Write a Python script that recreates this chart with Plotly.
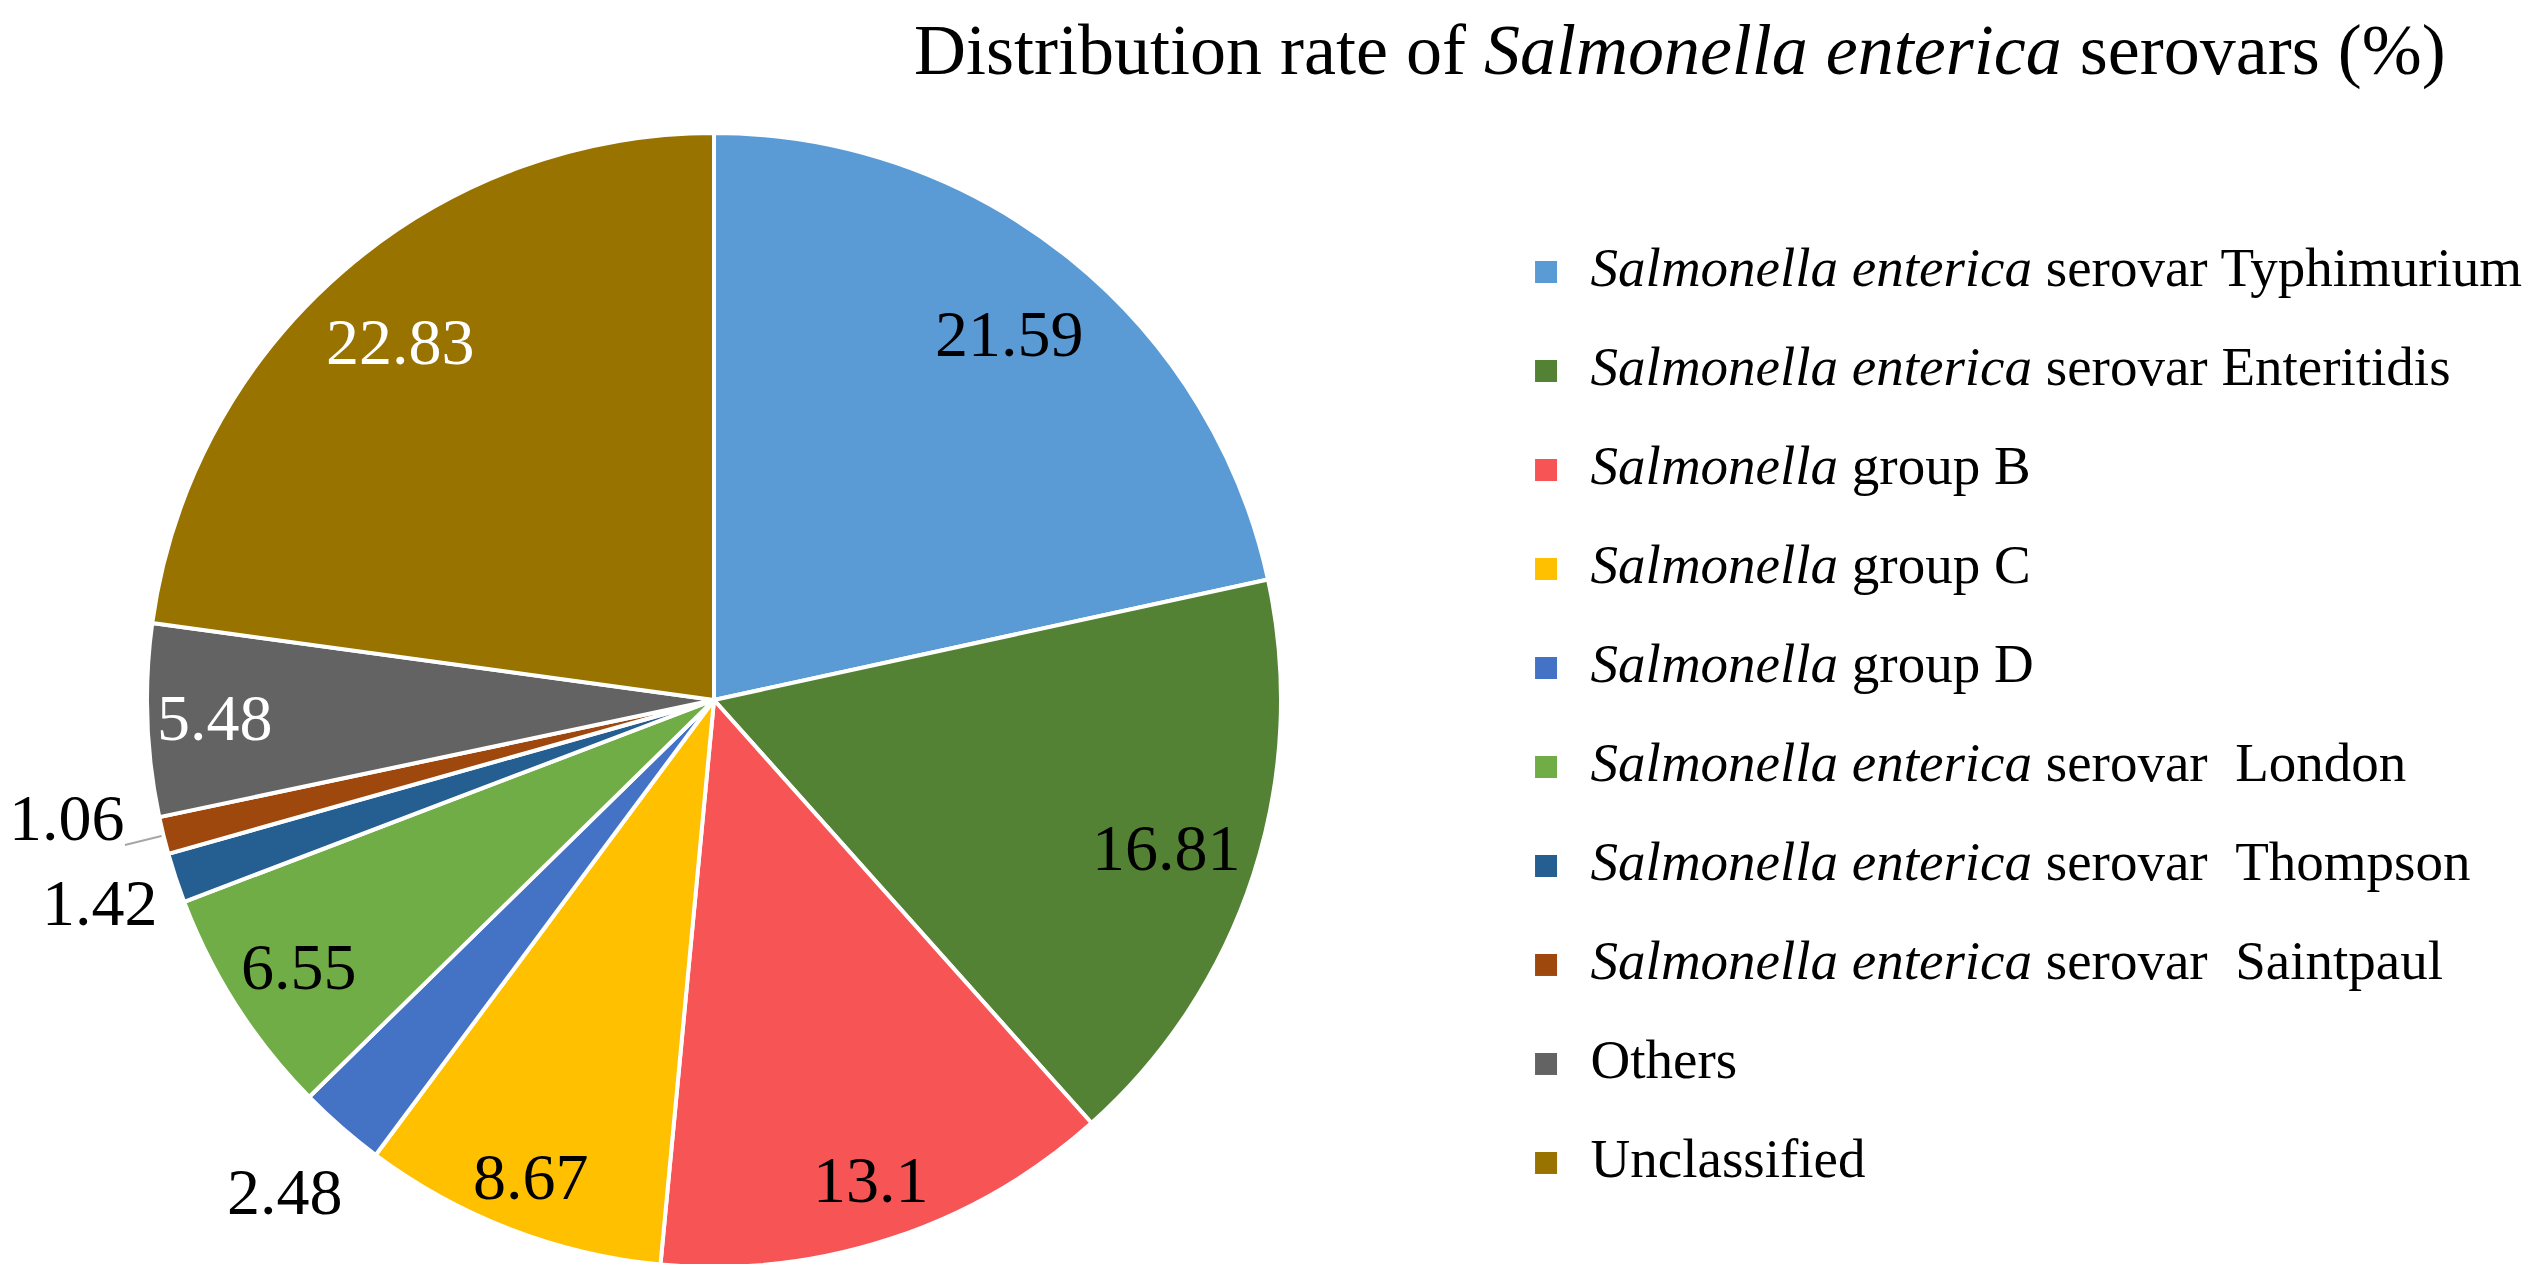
import math
import plotly.graph_objects as go

# serovar categories (legend order = slice order, clockwise from 12 o'clock)
categories = [
    "<i>Salmonella enterica</i> serovar Typhimurium",
    "<i>Salmonella enterica</i> serovar Enteritidis",
    "<i>Salmonella</i> group B",
    "<i>Salmonella</i> group C",
    "<i>Salmonella</i> group D",
    "<i>Salmonella enterica</i> serovar \u00a0London",
    "<i>Salmonella enterica</i> serovar \u00a0Thompson",
    "<i>Salmonella enterica</i> serovar \u00a0Saintpaul",
    "Others",
    "Unclassified",
]
rates = [21.59, 16.81, 13.1, 8.67, 2.48, 6.55, 1.42, 1.06, 5.48, 22.83]
rate_labels = ["21.59", "16.81", "13.1", "8.67", "2.48", "6.55", "1.42", "1.06", "5.48", "22.83"]

colors = ["#5B9BD5", "#548235", "#F75455", "#FFC000", "#4472C4",
          "#70AD47", "#255E91", "#9E480E", "#636363", "#997300"]
label_colors = ["black"] * 8 + ["white", "white"]
# label distance from centre (fraction of radius) and small angle nudges
label_r = [0.83, 0.84, 0.89, 0.90, 1.15, 0.87, 1.14, 1.16, 0.88, 0.84]
label_nudge = [0, 0, 0, 0, 0, 0, 0, 3.5, 0, 0]

FONT = "Liberation Serif"
W, H = 2533, 1264

pie_x = [0.05488, 0.50257]
pie_y = [0.00396, 0.90111]
# overlay axis: same scale as the pie (1 unit = radius), a bit wider on the left
lab_x = [0.01011, 0.50257]

total = sum(rates)
mid_angles = []
acc = 0
for v in rates:
    mid_angles.append((acc + v / 2) / total * 360)
    acc += v

fig = go.Figure()

fig.add_trace(go.Pie(
    labels=categories,
    values=rates,
    sort=False,
    direction="clockwise",
    rotation=0,
    marker=dict(colors=colors, line=dict(color="white", width=4)),
    textinfo="none",
    hoverinfo="label+value",
    domain=dict(x=pie_x, y=pie_y),
    showlegend=False,
))

# leader line for the small Saintpaul slice
t = math.radians(mid_angles[7])
fig.add_trace(go.Scatter(
    x=[1.0 * math.sin(t), 1.07 * math.sin(t)],
    y=[1.0 * math.cos(t), 1.07 * math.cos(t)],
    mode="lines",
    line=dict(color="#A6A6A6", width=2),
    hoverinfo="skip",
    showlegend=False,
    xaxis="x", yaxis="y",
))

# data labels (annotations sit above the pie layer)
annotations = []
for lab, a, r, n, c in zip(rate_labels, mid_angles, label_r, label_nudge, label_colors):
    t = math.radians(a + n)
    annotations.append(dict(
        text=lab, x=r * math.sin(t), y=r * math.cos(t),
        xref="x", yref="y", showarrow=False,
        xanchor="center", yanchor="middle",
        font=dict(family=FONT, size=66, color=c),
    ))

annotations.append(dict(
    text="Distribution rate of <i>Salmonella enterica</i> serovars (%)",
    x=0.66, y=1.0, xref="paper", yref="paper",
    xanchor="center", yanchor="top", showarrow=False,
    font=dict(family=FONT, size=72, color="black"),
))

# legend drawn as its own little axis
idx = list(range(len(categories)))
fig.add_trace(go.Scatter(
    x=[0.018] * len(idx), y=idx,
    mode="markers",
    marker=dict(symbol="square", size=22, color=colors),
    hoverinfo="skip",
    showlegend=False,
    cliponaxis=False,
    xaxis="x2", yaxis="y2",
))
fig.add_trace(go.Scatter(
    x=[0.062] * len(idx), y=idx,
    mode="text",
    text=categories,
    textposition="middle right",
    textfont=dict(family=FONT, size=55, color="black"),
    hoverinfo="skip",
    showlegend=False,
    cliponaxis=False,
    xaxis="x2", yaxis="y2",
))

hidden = dict(visible=False, showgrid=False, zeroline=False, fixedrange=True)
fig.update_layout(
    width=W, height=H,
    margin=dict(l=0, r=0, t=0, b=0),
    paper_bgcolor="white",
    plot_bgcolor="rgba(0,0,0,0)",
    font=dict(family=FONT, color="black"),
    xaxis=dict(domain=lab_x, range=[-1.2, 1], **hidden),
    yaxis=dict(domain=pie_y, range=[-1, 1], **hidden),
    xaxis2=dict(domain=[0.6, 1.0], range=[0, 1], anchor="y2", **hidden),
    yaxis2=dict(domain=[0.0471, 0.8303], range=[9.5, -0.5], anchor="x2", **hidden),
    annotations=annotations,
)

fig.write_html("out.html")
